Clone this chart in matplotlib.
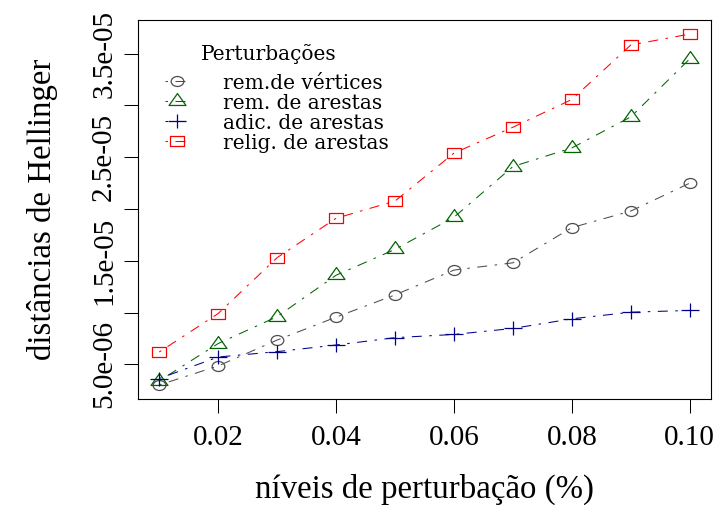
import numpy as np
import matplotlib
matplotlib.use("Agg")
import matplotlib.pyplot as plt
from matplotlib.path import Path
from matplotlib.markers import MarkerStyle
from matplotlib.font_manager import FontProperties

# perturbation levels
niveis = [0.01, 0.02, 0.03, 0.04, 0.05, 0.06, 0.07, 0.08, 0.09, 0.10]

# Hellinger distances per perturbation type
rem_vertices = [3.0e-6, 4.84e-6, 7.34e-6, 9.55e-6, 1.17e-5, 1.41e-5, 1.48e-5, 1.82e-5, 1.98e-5, 2.25e-5]
rem_arestas = [3.4e-6, 7.0e-6, 9.6e-6, 1.36e-5, 1.61e-5, 1.92e-5, 2.41e-5, 2.59e-5, 2.89e-5, 3.45e-5]
adic_arestas = [3.62e-6, 5.7e-6, 6.22e-6, 6.86e-6, 7.57e-6, 7.88e-6, 8.46e-6, 9.39e-6, 1.003e-5, 1.02e-5]
relig_arestas = [6.18e-6, 9.9e-6, 1.53e-5, 1.91e-5, 2.077e-5, 2.54e-5, 2.79e-5, 3.058e-5, 3.584e-5, 3.69e-5]

series_labels = ["rem.de vértices", "rem. de arestas", "adic. de arestas", "relig. de arestas"]
series_colors = ["#4d4d4d", "#006400", "#00008b", "#ff0000"]
legend_title = "Perturbações"

x_ticks = [0.02, 0.04, 0.06, 0.08, 0.10]
x_ticklabels = ["0.02", "0.04", "0.06", "0.08", "0.10"]
y_ticks = [5e-6, 1e-5, 1.5e-5, 2e-5, 2.5e-5, 3e-5, 3.5e-5]
y_ticklabels = ["5.0e-06", "", "1.5e-05", "", "2.5e-05", "", "3.5e-05"]

plt.rcParams["font.family"] = ["Liberation Serif", "DejaVu Serif"]

# open marker shapes, slightly wider than tall
_sx = 1.27
_circ = Path(Path.unit_circle().vertices * np.array([_sx, 1.0]), Path.unit_circle().codes)
_tri = Path([(0, 1.555), (-1.347 * 1.23, -0.778), (1.347 * 1.23, -0.778), (0, 1.555)],
            [Path.MOVETO, Path.LINETO, Path.LINETO, Path.CLOSEPOLY])
_sq = Path([(-1.25, -1), (1.25, -1), (1.25, 1), (-1.25, 1), (-1.25, -1)],
           [Path.MOVETO, Path.LINETO, Path.LINETO, Path.LINETO, Path.CLOSEPOLY])
_plus = Path([(-1.33, 0), (1.33, 0), (0, -1), (0, 1)],
             [Path.MOVETO, Path.LINETO, Path.MOVETO, Path.LINETO])
markers = [(_circ, 9.1), (_tri, 12.2), (_plus, 13.0), (_sq, 9.7)]

dotdash = (0, (2.4, 7.2, 9.6, 7.2))

fig = plt.figure(figsize=(7.15, 5.05), dpi=100)
W, H = 715, 505
left, right, top, bottom = 138, 711, 20, 399
ax = fig.add_axes([left / W, 1 - bottom / H, (right - left) / W, (bottom - top) / H])

all_series = [rem_vertices, rem_arestas, adic_arestas, relig_arestas]
handles = []
for vals, lab, col, (mk, ms) in zip(all_series, series_labels, series_colors, markers):
    h, = ax.plot(niveis, vals, color=col, lw=0.75, linestyle=dotdash,
                 marker=MarkerStyle(mk), markersize=ms, markerfacecolor="none",
                 markeredgecolor=col, markeredgewidth=0.9, label=lab)
    handles.append(h)

# R-style 4% padding on both axes
xs = np.array(niveis)
ys = np.concatenate([np.array(s) for s in all_series])
xr = xs.max() - xs.min()
yr = ys.max() - ys.min()
ax.set_xlim(xs.min() - 0.04 * xr, xs.max() + 0.04 * xr)
ax.set_ylim(ys.min() - 0.04 * yr, ys.max() + 0.04 * yr)

ax.set_xticks(x_ticks)
ax.set_xticklabels(x_ticklabels, fontsize=21)
ax.set_yticks(y_ticks)
ax.set_yticklabels(y_ticklabels, fontsize=21, rotation=90, va="center")
ax.tick_params(axis="both", direction="out", length=10, width=0.75, color="black")
ax.tick_params(axis="x", pad=9)
ax.tick_params(axis="y", pad=5)
for sp in ax.spines.values():
    sp.set_linewidth(0.8)
    sp.set_color("black")

ax.set_xlabel("níveis de perturbação (%)", fontsize=23.7, labelpad=16)
ax.set_ylabel("distâncias de Hellinger", fontsize=23.7, labelpad=24)

# legend entries without frame; its heading is placed as a separate text
leg_font = FontProperties(family="DejaVu Serif", size=14.5)
leg = ax.legend(handles=handles, loc="upper left",
                bbox_to_anchor=(0.0471, 0.8588), frameon=False, prop=leg_font,
                labelspacing=0.05, handlelength=1.2,
                handletextpad=1.7, borderpad=0, borderaxespad=0, numpoints=1)
ax.text(0.2286, 0.9103, legend_title, transform=ax.transAxes, ha="center",
        va="center", fontproperties=leg_font)

fig.savefig("out.png", dpi=100)
